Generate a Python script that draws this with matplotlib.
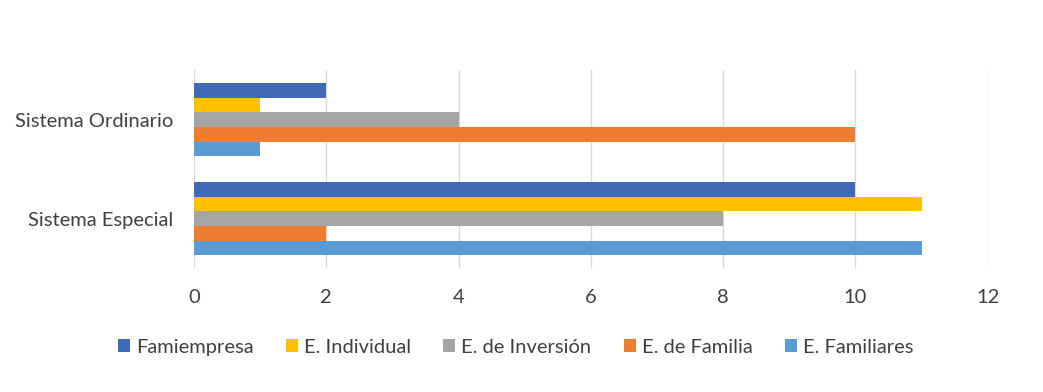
import numpy as np
import matplotlib.pyplot as plt

plt.rcParams['font.family'] = ['Lato', 'DejaVu Sans']

categories = ["Sistema Especial", "Sistema Ordinario"]
series = ["Famiempresa", "E. Individual", "E. de Inversión", "E. de Familia", "E. Familiares"]
values = {
    "Famiempresa": [10, 2],
    "E. Individual": [11, 1],
    "E. de Inversión": [8, 4],
    "E. de Familia": [2, 10],
    "E. Familiares": [11, 1],
}
colors = ["#4069B8", "#FFC000", "#A5A5A5", "#ED7D31", "#5B9BD5"]

fig = plt.figure(figsize=(10.43, 3.92), dpi=100)
ax = fig.add_axes([0.186, 0.316, 0.761, 0.505])

y = np.arange(len(categories))
h = 0.148
for i, (name, col) in enumerate(zip(series, colors)):
    # first series on top within each group
    offset = (2 - i) * h
    ax.barh(y + offset, values[name], height=h, color=col, label=name, zorder=3)

ax.set_xlim(0, 12)
ax.set_ylim(-0.5, 1.5)
ax.set_xticks(range(0, 13, 2))
ax.set_yticks(y)
ax.set_yticklabels(categories)
ax.grid(axis='x', color='#D9D9D9', linewidth=1, zorder=0)
for s in ax.spines.values():
    s.set_visible(False)
ax.tick_params(length=0, labelsize=14.5, colors='#404040')
ax.tick_params(axis='y', pad=15)
ax.tick_params(axis='x', pad=15)

ax.legend(loc='upper center', bbox_to_anchor=(0.405, -0.265), ncol=5, frameon=False,
          fontsize=14.5, handlelength=0.6, handleheight=0.6, handletextpad=0.3,
          columnspacing=1.6, labelcolor='#404040')

fig.savefig("out.png", dpi=100)
